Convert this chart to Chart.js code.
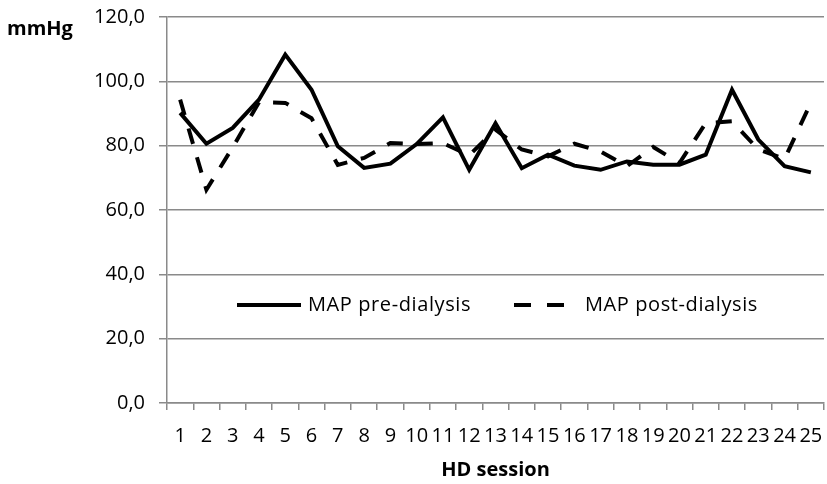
<!DOCTYPE html>
<html>
<head>
<meta charset="utf-8">
<script src="https://cdn.jsdelivr.net/npm/chart.js@4/dist/chart.umd.min.js"></script>
<style>
  html, body { margin: 0; padding: 0; background: #fff; }
  #wrap { width: 827px; height: 484px; }
</style>
</head>
<body>
<div id="wrap"><canvas id="mapChart" width="827" height="484"></canvas></div>
<script>
// HD session numbers
var sessions = ["1","2","3","4","5","6","7","8","9","10","11","12","13","14","15","16","17","18","19","20","21","22","23","24","25"];
// mean arterial pressure (mmHg)
var mapPre  = [90.2, 80.6, 85.5, 94.3, 108.3, 97.4, 79.8, 73.1, 74.4, 80.5, 88.8, 72.5, 87.0, 73.0, 77.2, 73.8, 72.5, 75.1, 74.1, 74.1, 77.2, 97.4, 81.9, 73.6, 71.7];
var mapPost = [94.3, 66.3, 79.5, 93.5, 93.3, 88.5, 74.0, 76.2, 80.8, 80.5, 80.8, 77.0, 85.0, 78.8, 76.7, 80.6, 78.2, 73.6, 79.6, 74.6, 87.0, 87.6, 78.8, 75.9, 93.3];
var seriesNames = ["MAP pre-dialysis", "MAP post-dialysis"];
var yTitle = "mmHg";
var xTitle = "HD session";

var gray = "#8a8a8a";
var font = "'Open Sans', sans-serif";
var dash = [16, 14];

// legend inside the plot + horizontal "mmHg" label
var extras = {
    id: "extras",
    afterDraw: function (chart) {
        var ctx = chart.ctx;
        ctx.save();
        ctx.fillStyle = "#000";
        ctx.font = "bold 20px " + font;
        ctx.textBaseline = "middle";
        ctx.textAlign = "left";
        ctx.fillText(yTitle, 7, 29);

        var y = chart.scales.y.getPixelForValue(30.5);
        var items = [
            { x: 237, len: 64, dash: [], text: seriesNames[0], tx: 308 },
            { x: 514, len: 50, dash: [17, 16], text: seriesNames[1], tx: 585 }
        ];
        ctx.font = "20px " + font;
        ctx.letterSpacing = "0.6px";
        items.forEach(function (it) {
            ctx.strokeStyle = "#000";
            ctx.lineWidth = 4;
            ctx.setLineDash(it.dash);
            ctx.beginPath();
            ctx.moveTo(it.x, y);
            ctx.lineTo(it.x + it.len, y);
            ctx.stroke();
            ctx.setLineDash([]);
            ctx.fillText(it.text, it.tx, y);
        });
        ctx.restore();
    }
};

var ctx = document.getElementById("mapChart");
var myChart = new Chart(ctx, {
    type: "line",
    data: {
        labels: sessions,
        datasets: [
            {
                label: seriesNames[0],
                data: mapPre,
                borderColor: "#000",
                borderWidth: 4,
                pointRadius: 0,
                tension: 0,
                fill: false
            },
            {
                label: seriesNames[1],
                data: mapPost,
                borderColor: "#000",
                borderWidth: 4,
                borderDash: dash,
                pointRadius: 0,
                tension: 0,
                fill: false
            }
        ]
    },
    options: {
        responsive: false,
        animation: false,
        layout: { padding: { top: 17, right: 3, left: 0, bottom: 0 } },
        plugins: {
            legend: { display: false },
            tooltip: { enabled: false }
        },
        scales: {
            x: {
                offset: true,
                grid: {
                    offset: true,
                    drawOnChartArea: false,
                    drawTicks: true,
                    tickLength: 7,
                    color: gray,
                    lineWidth: 1.5
                },
                border: { color: gray, width: 1.5 },
                ticks: {
                    color: "#000",
                    font: { family: font, size: 20 },
                    padding: 14,
                    maxRotation: 0,
                    autoSkip: false
                },
                title: {
                    display: true,
                    text: xTitle,
                    color: "#000",
                    font: { family: font, size: 20, weight: "bold" },
                    padding: { top: 2, bottom: 2 }
                },
                afterFit: function (scale) {
                    scale.height = 81;
                    scale.paddingLeft = 0;
                    scale.paddingRight = 0;
                }
            },
            y: {
                min: 0,
                max: 120,
                grid: {
                    color: gray,
                    lineWidth: 1.5,
                    tickLength: 8
                },
                border: { color: gray, width: 1.5 },
                ticks: {
                    stepSize: 20,
                    color: "#000",
                    font: { family: font, size: 20 },
                    padding: 14,
                    callback: function (v) { return v.toFixed(1).replace(".", ","); }
                },
                afterFit: function (scale) {
                    scale.width = 167;
                    scale.paddingTop = 0;
                    scale.paddingBottom = 0;
                }
            }
        }
    },
    plugins: [extras]
});
</script>
</body>
</html>
